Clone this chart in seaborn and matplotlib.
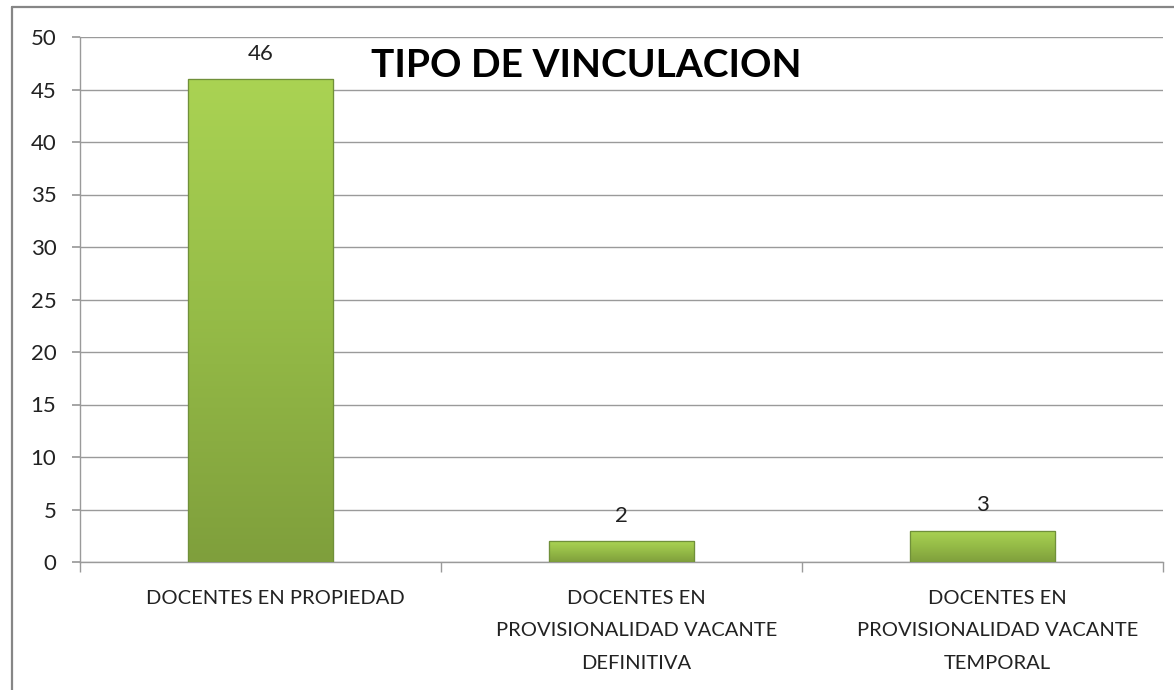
import numpy as np
import pandas as pd
import seaborn as sns
import matplotlib.pyplot as plt
from matplotlib.lines import Line2D
from matplotlib.transforms import ScaledTranslation

sns.set_theme(style='white')
plt.rcParams['font.family'] = ['Lato', 'DejaVu Sans']

categorias = ['DOCENTES EN PROPIEDAD',
              'DOCENTES EN\nPROVISIONALIDAD VACANTE\nDEFINITIVA',
              'DOCENTES EN\nPROVISIONALIDAD VACANTE\nTEMPORAL']
valores = [46, 2, 3]
titulo = 'TIPO DE VINCULACION'
y_ticks = [0, 5, 10, 15, 20, 25, 30, 35, 40, 45, 50]

df = pd.DataFrame({'tipo': categorias, 'docentes': valores})

fig = plt.figure(figsize=(11.74, 6.90), dpi=100)
ax = fig.add_axes([80 / 1174, 1 - 562 / 690, 1083 / 1174, 525 / 690])

sns.barplot(data=df, x='tipo', y='docentes', color='#96bd47', width=0.4,
            edgecolor='#76963a', linewidth=0.8, ax=ax, zorder=3)

# gradient fill over each bar (light top, darker bottom)
grad = np.linspace(0, 1, 256).reshape(-1, 1)
cmap = sns.blend_palette(['#7f9f3c', '#95bb47', '#aad353'], as_cmap=True)
for bar in ax.patches:
    x0, y0 = bar.get_x(), bar.get_y()
    w, h = bar.get_width(), bar.get_height()
    im = ax.imshow(grad, extent=[x0, x0 + w, y0, y0 + h], origin='lower',
                   cmap=cmap, aspect='auto', zorder=4)
    im.set_clip_path(bar)
    ax.add_patch(plt.Rectangle((x0, y0), w, h, fill=False,
                               edgecolor='#70903a', linewidth=0.9, zorder=5))
ax.set_xlim(-0.5, 2.5)
ax.set_ylim(0, 50)
ax.set_yticks(y_ticks)
ax.yaxis.grid(True, color='#9a9a9a', linewidth=1.0, zorder=0)
ax.set_axisbelow(True)

ax.bar_label(ax.containers[0], labels=[str(v) for v in valores],
             padding=11, fontsize=16, color='#222222', zorder=6)

for s in ['top', 'right']:
    ax.spines[s].set_visible(False)
for s in ['left', 'bottom']:
    ax.spines[s].set_color('#9a9a9a')
    ax.spines[s].set_linewidth(1.0)

ax.set_xlabel('')
ax.set_ylabel('')
ax.tick_params(axis='y', which='major', length=6, color='#9a9a9a',
               labelsize=16, labelcolor='#222222', pad=11, left=True)
ax.tick_params(axis='x', which='major', length=0, labelsize=14.5,
               labelcolor='#222222', pad=20)
ax.set_xticks(range(len(categorias)))
ax.set_xticklabels(categorias, linespacing=2.1, va='top')
# the original labels sit a bit right of the bar centres
shift = ScaledTranslation(15 / 100, 0, fig.dpi_scale_trans)
for lbl in ax.get_xticklabels():
    lbl.set_transform(lbl.get_transform() + shift)
ax.set_xticks([-0.5, 0.5, 1.5, 2.5], minor=True)
ax.tick_params(axis='x', which='minor', length=7, color='#9a9a9a',
               bottom=True)

ax.text(0.467, 0.945, titulo, transform=ax.transAxes, ha='center', va='center',
        fontsize=28, fontweight='bold', color='black', zorder=6)

# outer chart frame
fig.add_artist(Line2D([12 / 1174, 12 / 1174], [0, 1 - 7 / 690],
                      transform=fig.transFigure, color='#868686', linewidth=1.6))
fig.add_artist(Line2D([12 / 1174, 1], [1 - 7 / 690, 1 - 7 / 690],
                      transform=fig.transFigure, color='#868686', linewidth=1.6))

fig.savefig('out.png', dpi=100)
